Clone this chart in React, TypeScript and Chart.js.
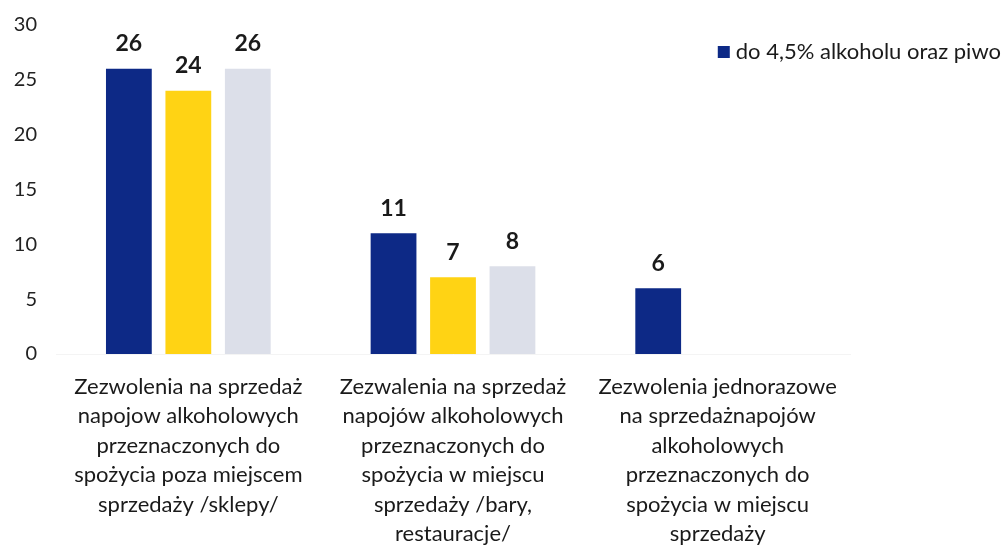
import React, { useEffect, useRef } from "react";
import { Chart, registerables } from "chart.js";

Chart.register(...registerables);

const categories: string[][] = [
  ["Zezwolenia na sprzedaż", "napojow alkoholowych", "przeznaczonych do", "spożycia poza miejscem", "sprzedaży /sklepy/"],
  ["Zezwalenia na sprzedaż", "napojów alkoholowych", "przeznaczonych do", "spożycia w miejscu", "sprzedaży /bary,", "restauracje/"],
  ["Zezwolenia jednorazowe", "na sprzedażnapojów", "alkoholowych", "przeznaczonych do", "spożycia w miejscu", "sprzedaży"],
];

const seriesNames = [
  "do 4,5% alkoholu oraz piwo",
  "powyżej 4,5% do 18% alkoholu (z wyjątkiem piwa)",
  "powyżej 18% alkoholu",
];
const seriesA: (number | null)[] = [26, 11, 6];
const seriesB: (number | null)[] = [24, 7, null];
const seriesC: (number | null)[] = [26, 8, null];
const seriesColors = ["#0d2986", "#ffd314", "#dcdfe9"];
const yTicks = [0, 5, 10, 15, 20, 25, 30];

const FONT = "Lato, 'Open Sans', sans-serif";

const dataLabelPlugin = {
  id: "dataLabels",
  afterDatasetsDraw(chart: any) {
    const ctx = chart.ctx;
    ctx.save();
    ctx.font = `bold 23px ${FONT}`;
    ctx.fillStyle = "#1a1a1a";
    ctx.textAlign = "center";
    ctx.textBaseline = "middle";
    chart.data.datasets.forEach((ds: any, i: number) => {
      const meta = chart.getDatasetMeta(i);
      meta.data.forEach((bar: any, j: number) => {
        const v = ds.data[j];
        if (v === null || v === undefined) return;
        ctx.fillText(String(v), bar.x, bar.y - 25);
      });
    });
    ctx.restore();
  },
};

const legendPlugin = {
  id: "customLegend",
  afterDraw(chart: any) {
    const ctx = chart.ctx;
    ctx.save();
    ctx.font = `22px ${FONT}`;
    const text = seriesNames[0];
    const w = ctx.measureText(text).width;
    const right = chart.width - 4;
    const textX = right - w;
    const y = 52;
    ctx.fillStyle = seriesColors[0];
    ctx.fillRect(textX - 18, y - 6, 12, 12);
    ctx.fillStyle = "#1a1a1a";
    ctx.textAlign = "left";
    ctx.textBaseline = "middle";
    ctx.fillText(text, textX, y);
    ctx.restore();
  },
};

export default function App() {
  const canvasRef = useRef<HTMLCanvasElement | null>(null);

  useEffect(() => {
    document.body.style.margin = "0";
    const canvas = canvasRef.current;
    if (!canvas) return;
    const chart = new Chart(canvas, {
      type: "bar",
      data: {
        labels: categories,
        datasets: [seriesA, seriesB, seriesC].map((d, i) => ({
          label: seriesNames[i],
          data: d,
          backgroundColor: seriesColors[i],
          borderWidth: 0,
          barPercentage: 0.77,
          categoryPercentage: 0.674,
        })),
      },
      options: {
        animation: false,
        responsive: true,
        maintainAspectRatio: false,
        layout: { padding: { top: 25, right: 155, left: 0, bottom: 0 } },
        plugins: {
          legend: { display: false },
          tooltip: { enabled: false },
        },
        scales: {
          x: {
            grid: { display: false },
            border: { display: true, color: "#f4f4f4" },
            ticks: {
              font: { family: FONT, size: 22, lineHeight: 1.34 },
              color: "#1a1a1a",
              padding: 10,
              maxRotation: 0,
              autoSkip: false,
            },
            afterFit(scale: any) {
              scale.height = 191;
            },
          },
          y: {
            min: 0,
            max: 30,
            afterBuildTicks(scale: any) {
              scale.ticks = yTicks.map((v) => ({ value: v }));
            },
            grid: { display: false },
            border: { display: false },
            ticks: {
              font: { family: FONT, size: 20 },
              color: "#222",
              padding: 11,
            },
            afterFit(scale: any) {
              scale.width = 56;
            },
          },
        },
      },
      plugins: [dataLabelPlugin, legendPlugin],
    } as any);
    return () => chart.destroy();
  }, []);

  return (
    <div style={{ width: 1005, height: 545, position: "relative", background: "#fff" }}>
      <canvas ref={canvasRef} />
    </div>
  );
}
